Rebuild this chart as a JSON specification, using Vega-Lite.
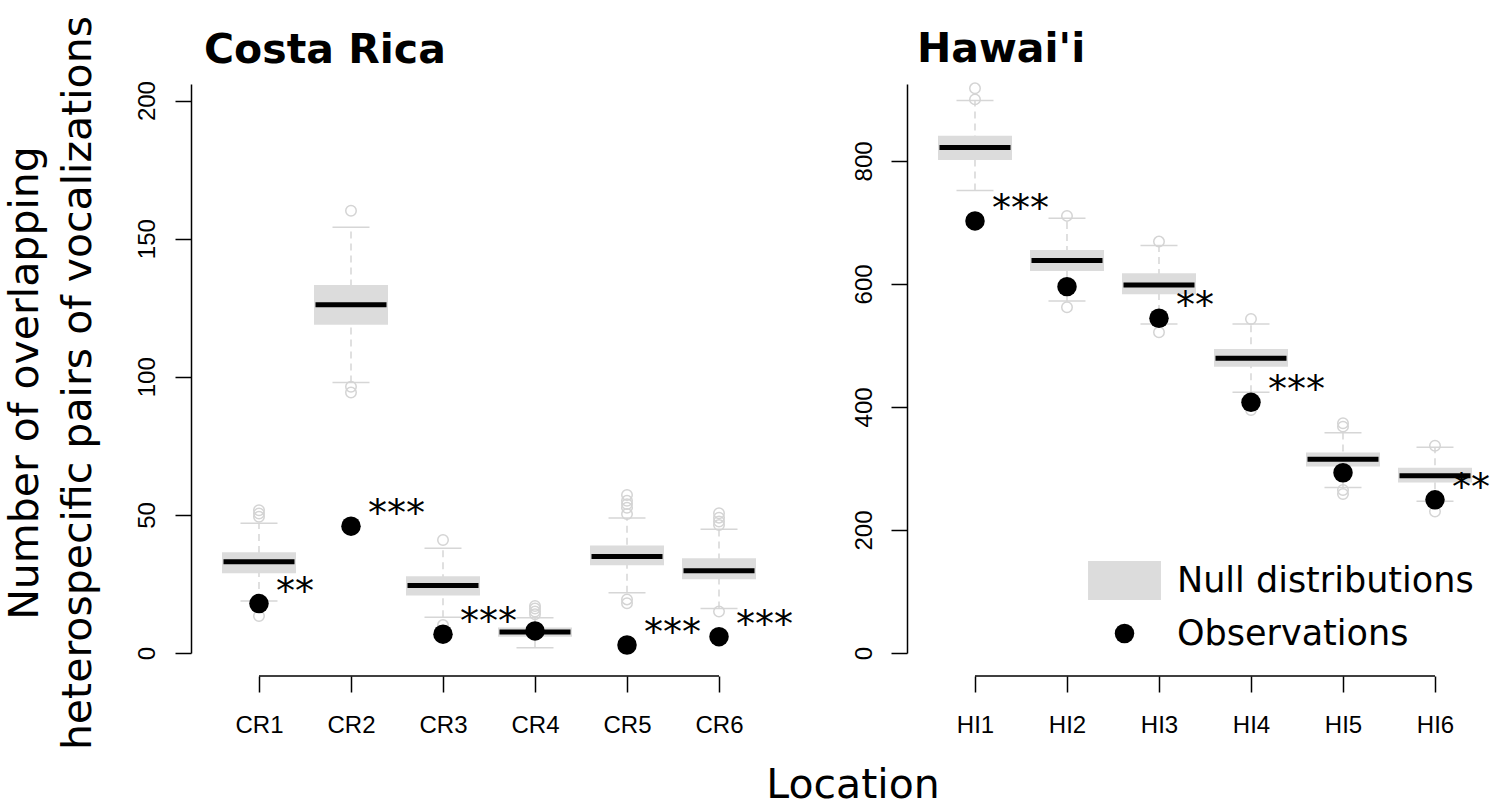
{
  "$schema": "https://vega.github.io/schema/vega-lite/v6.json",
  "background": "white",
  "padding": {"left": 4, "top": 15, "right": 0, "bottom": 0},
  "config": {
    "view": {"stroke": null},
    "font": "DejaVu Sans",
    "axis": {
      "domainColor": "black",
      "domainWidth": 1.5,
      "tickColor": "black",
      "tickWidth": 1.5,
      "tickSize": 16,
      "grid": false,
      "labelColor": "black",
      "labelFont": "Liberation Sans",
      "labelFontSize": 24
    }
  },
  "datasets": {
    "stats": [
      {"region": "CR", "site": "CR1", "lo": 18.8, "q1": 28.9, "med": 33.0, "q3": 36.5, "hi": 47.0},
      {"region": "CR", "site": "CR2", "lo": 97.9, "q1": 118.8, "med": 126.1, "q3": 133.2, "hi": 154.1},
      {"region": "CR", "site": "CR3", "lo": 12.9, "q1": 20.8, "med": 24.4, "q3": 27.8, "hi": 37.9},
      {"region": "CR", "site": "CR4", "lo": 1.9, "q1": 5.9, "med": 7.6, "q3": 9.2, "hi": 12.8},
      {"region": "CR", "site": "CR5", "lo": 21.8, "q1": 31.8, "med": 34.9, "q3": 38.9, "hi": 48.9},
      {"region": "CR", "site": "CR6", "lo": 16.1, "q1": 26.7, "med": 29.8, "q3": 34.3, "hi": 44.8},
      {"region": "HI", "site": "HI1", "lo": 751.7, "q1": 801.6, "med": 821.6, "q3": 840.7, "hi": 898},
      {"region": "HI", "site": "HI2", "lo": 572.4, "q1": 621, "med": 638, "q3": 655.3, "hi": 706.8},
      {"region": "HI", "site": "HI3", "lo": 535, "q1": 583.2, "med": 598.4, "q3": 617.4, "hi": 662.3},
      {"region": "HI", "site": "HI4", "lo": 424, "q1": 465.5, "med": 479, "q3": 494, "hi": 535},
      {"region": "HI", "site": "HI5", "lo": 269, "q1": 303, "med": 315, "q3": 326, "hi": 358},
      {"region": "HI", "site": "HI6", "lo": 246.7, "q1": 277, "med": 288, "q3": 301, "hi": 334.5}
    ],
    "outliers": [
      {"region": "CR", "site": "CR1", "value": 51.7},
      {"region": "CR", "site": "CR1", "value": 50.5},
      {"region": "CR", "site": "CR1", "value": 49.3},
      {"region": "CR", "site": "CR1", "value": 13.4},
      {"region": "CR", "site": "CR2", "value": 160.1},
      {"region": "CR", "site": "CR2", "value": 96.4},
      {"region": "CR", "site": "CR2", "value": 94.3},
      {"region": "CR", "site": "CR3", "value": 40.9},
      {"region": "CR", "site": "CR3", "value": 10.1},
      {"region": "CR", "site": "CR4", "value": 17.0},
      {"region": "CR", "site": "CR4", "value": 16.1},
      {"region": "CR", "site": "CR4", "value": 15.0},
      {"region": "CR", "site": "CR4", "value": 14.0},
      {"region": "CR", "site": "CR5", "value": 57.2},
      {"region": "CR", "site": "CR5", "value": 55.1},
      {"region": "CR", "site": "CR5", "value": 53.9},
      {"region": "CR", "site": "CR5", "value": 52.6},
      {"region": "CR", "site": "CR5", "value": 50.3},
      {"region": "CR", "site": "CR5", "value": 19.4},
      {"region": "CR", "site": "CR5", "value": 18.0},
      {"region": "CR", "site": "CR6", "value": 50.6},
      {"region": "CR", "site": "CR6", "value": 49.0},
      {"region": "CR", "site": "CR6", "value": 47.6},
      {"region": "CR", "site": "CR6", "value": 46.3},
      {"region": "CR", "site": "CR6", "value": 15.0},
      {"region": "HI", "site": "HI1", "value": 918},
      {"region": "HI", "site": "HI1", "value": 900},
      {"region": "HI", "site": "HI2", "value": 710.6},
      {"region": "HI", "site": "HI2", "value": 562},
      {"region": "HI", "site": "HI3", "value": 668.8},
      {"region": "HI", "site": "HI3", "value": 521.4},
      {"region": "HI", "site": "HI4", "value": 543},
      {"region": "HI", "site": "HI4", "value": 395},
      {"region": "HI", "site": "HI5", "value": 373.5},
      {"region": "HI", "site": "HI5", "value": 368},
      {"region": "HI", "site": "HI5", "value": 265},
      {"region": "HI", "site": "HI5", "value": 258.5},
      {"region": "HI", "site": "HI6", "value": 337},
      {"region": "HI", "site": "HI6", "value": 230}
    ],
    "obs": [
      {"region": "CR", "site": "CR1", "value": 17.9, "stars": "**", "series": "Observations"},
      {"region": "CR", "site": "CR2", "value": 45.9, "stars": "***", "series": "Observations"},
      {"region": "CR", "site": "CR3", "value": 6.8, "stars": "***", "series": "Observations"},
      {"region": "CR", "site": "CR4", "value": 8.0, "stars": "", "series": "Observations"},
      {"region": "CR", "site": "CR5", "value": 2.9, "stars": "***", "series": "Observations"},
      {"region": "CR", "site": "CR6", "value": 5.9, "stars": "***", "series": "Observations"},
      {"region": "HI", "site": "HI1", "value": 702.4, "stars": "***", "series": "Observations"},
      {"region": "HI", "site": "HI2", "value": 595.6, "stars": "", "series": "Observations"},
      {"region": "HI", "site": "HI3", "value": 544.2, "stars": "**", "series": "Observations"},
      {"region": "HI", "site": "HI4", "value": 407.6, "stars": "***", "series": "Observations"},
      {"region": "HI", "site": "HI5", "value": 293, "stars": "", "series": "Observations"},
      {"region": "HI", "site": "HI6", "value": 249, "stars": "**", "series": "Observations"}
    ]
  },
  "title": {
    "text": "Location",
    "orient": "bottom",
    "anchor": "middle",
    "font": "DejaVu Sans",
    "fontSize": 41,
    "fontWeight": "normal",
    "color": "black",
    "offset": 16,
    "dx": 102
  },
  "vconcat": [
    {
      "title": {
        "text": ["Number of overlapping", "heterospecific pairs of vocalizations"],
        "orient": "left",
        "anchor": "middle",
        "font": "DejaVu Sans",
        "fontSize": 41,
        "fontWeight": "normal",
        "color": "black",
        "lineHeight": 53,
        "offset": 35
      },
      "spacing": 57,
      "hconcat": [
        {
          "width": 596,
          "height": 569,
          "title": {
            "text": "Costa Rica",
            "anchor": "start",
            "frame": "group",
            "dx": 13,
            "offset": -23,
            "baseline": "alphabetic",
            "font": "DejaVu Sans",
            "fontSize": 41,
            "fontWeight": "bold",
            "color": "black"
          },
          "encoding": {
            "x": {
              "field": "site",
              "type": "nominal",
              "scale": {"type": "point", "domain": ["CR1", "CR2", "CR3", "CR4", "CR5", "CR6"], "padding": 0.739},
              "axis": {"title": null, "domain": false, "offset": 23, "labelAngle": 0, "labelBaseline": "top", "labelPadding": 21}
            }
          },
          "layer": [
            {
              "data": {"name": "stats"},
              "transform": [{"filter": "datum.region === 'CR'"}],
              "mark": {"type": "rule", "color": "#d6d6d6", "strokeWidth": 1.5, "strokeDash": [7, 5]},
              "encoding": {
                "y": {
                  "field": "lo",
                  "type": "quantitative",
                  "scale": {"domain": [0, 206], "nice": false, "zero": false},
                  "axis": {
                    "values": [0, 50, 100, 150, 200],
                    "labelAngle": -90,
                    "labelAlign": "center",
                    "labelBaseline": "alphabetic",
                    "labelPadding": 21,
                    "title": null
                  }
                },
                "y2": {"field": "hi"}
              }
            },
            {
              "data": {"name": "stats"},
              "transform": [{"filter": "datum.region === 'CR'"}],
              "mark": {"type": "tick", "orient": "horizontal", "color": "#d6d6d6", "opacity": 1, "size": 37, "thickness": 1.5},
              "encoding": {"y": {"field": "lo", "type": "quantitative"}}
            },
            {
              "data": {"name": "stats"},
              "transform": [{"filter": "datum.region === 'CR'"}],
              "mark": {"type": "tick", "orient": "horizontal", "color": "#d6d6d6", "opacity": 1, "size": 37, "thickness": 1.5},
              "encoding": {"y": {"field": "hi", "type": "quantitative"}}
            },
            {
              "data": {"name": "stats"},
              "transform": [{"filter": "datum.region === 'CR'"}],
              "mark": {"type": "bar", "color": "#dcdcdc", "opacity": 1, "size": 74},
              "encoding": {
                "y": {"field": "q1", "type": "quantitative"},
                "y2": {"field": "q3"}
              }
            },
            {
              "data": {"name": "stats"},
              "transform": [{"filter": "datum.region === 'CR'"}],
              "mark": {"type": "tick", "orient": "horizontal", "color": "black", "opacity": 1, "size": 71, "thickness": 5},
              "encoding": {"y": {"field": "med", "type": "quantitative"}}
            },
            {
              "data": {"name": "outliers"},
              "transform": [{"filter": "datum.region === 'CR'"}],
              "mark": {"type": "point", "shape": "circle", "filled": false, "stroke": "#d4d4d4", "opacity": 1, "strokeWidth": 1.5, "size": 110},
              "encoding": {"y": {"field": "value", "type": "quantitative"}}
            },
            {
              "data": {"name": "obs"},
              "transform": [{"filter": "datum.region === 'CR'"}],
              "mark": {"type": "point", "shape": "circle", "filled": true, "color": "black", "opacity": 1, "size": 380},
              "encoding": {"y": {"field": "value", "type": "quantitative"}}
            },
            {
              "data": {"name": "obs"},
              "transform": [{"filter": "datum.region === 'CR'"}],
              "mark": {"type": "text", "align": "left", "baseline": "alphabetic", "dx": 17, "dy": 0, "font": "DejaVu Sans", "fontSize": 38, "color": "black"},
              "encoding": {
                "y": {"field": "value", "type": "quantitative"},
                "text": {"field": "stars"}
              }
            },
            {
              "data": {"values": [{"first": "CR1", "last": "CR6"}]},
              "mark": {"type": "rule", "color": "black", "strokeWidth": 1.5},
              "encoding": {
                "x": {"field": "first", "type": "nominal"},
                "x2": {"field": "last"},
                "y": {"datum": -8.33, "type": "quantitative"}
              }
            }
          ]
        },
        {
          "width": 590,
          "height": 569,
          "title": {
            "text": "Hawai'i",
            "anchor": "start",
            "frame": "group",
            "dx": 10,
            "offset": -23,
            "baseline": "alphabetic",
            "font": "DejaVu Sans",
            "fontSize": 41,
            "fontWeight": "bold",
            "color": "black"
          },
          "encoding": {
            "x": {
              "field": "site",
              "type": "nominal",
              "scale": {"type": "point", "domain": ["HI1", "HI2", "HI3", "HI4", "HI5", "HI6"], "padding": 0.7065, "align": 0.523},
              "axis": {"title": null, "domain": false, "offset": 23, "labelAngle": 0, "labelBaseline": "top", "labelPadding": 21}
            }
          },
          "layer": [
            {
              "data": {"name": "stats"},
              "transform": [{"filter": "datum.region === 'HI'"}],
              "mark": {"type": "rule", "color": "#d6d6d6", "strokeWidth": 1.5, "strokeDash": [7, 5]},
              "encoding": {
                "y": {
                  "field": "lo",
                  "type": "quantitative",
                  "scale": {"domain": [0, 925], "nice": false, "zero": false},
                  "axis": {
                    "values": [0, 200, 400, 600, 800],
                    "labelAngle": -90,
                    "labelAlign": "center",
                    "labelBaseline": "alphabetic",
                    "labelPadding": 20,
                    "title": null
                  }
                },
                "y2": {"field": "hi"}
              }
            },
            {
              "data": {"name": "stats"},
              "transform": [{"filter": "datum.region === 'HI'"}],
              "mark": {"type": "tick", "orient": "horizontal", "color": "#d6d6d6", "opacity": 1, "size": 37, "thickness": 1.5},
              "encoding": {"y": {"field": "lo", "type": "quantitative"}}
            },
            {
              "data": {"name": "stats"},
              "transform": [{"filter": "datum.region === 'HI'"}],
              "mark": {"type": "tick", "orient": "horizontal", "color": "#d6d6d6", "opacity": 1, "size": 37, "thickness": 1.5},
              "encoding": {"y": {"field": "hi", "type": "quantitative"}}
            },
            {
              "data": {"name": "stats"},
              "transform": [{"filter": "datum.region === 'HI'"}],
              "mark": {"type": "bar", "color": "#dcdcdc", "opacity": 1, "size": 74},
              "encoding": {
                "y": {"field": "q1", "type": "quantitative"},
                "y2": {"field": "q3"}
              }
            },
            {
              "data": {"name": "stats"},
              "transform": [{"filter": "datum.region === 'HI'"}],
              "mark": {"type": "tick", "orient": "horizontal", "color": "black", "opacity": 1, "size": 71, "thickness": 5},
              "encoding": {"y": {"field": "med", "type": "quantitative"}}
            },
            {
              "data": {"name": "outliers"},
              "transform": [{"filter": "datum.region === 'HI'"}],
              "mark": {"type": "point", "shape": "circle", "filled": false, "stroke": "#d4d4d4", "opacity": 1, "strokeWidth": 1.5, "size": 110},
              "encoding": {"y": {"field": "value", "type": "quantitative"}}
            },
            {
              "data": {"name": "obs"},
              "transform": [{"filter": "datum.region === 'HI'"}],
              "mark": {"type": "point", "filled": true, "opacity": 1, "size": 380, "strokeWidth": 0},
              "encoding": {
                "y": {"field": "value", "type": "quantitative"},
                "color": {
                  "field": "series",
                  "type": "nominal",
                  "scale": {"domain": ["Null distributions", "Observations"], "range": ["#dcdcdc", "black"]},
                  "legend": {
                    "title": null,
                    "orient": "none",
                    "legendX": 916,
                    "legendY": 479,
                    "padding": 0,
                    "labelFont": "DejaVu Sans",
                    "labelFontSize": 35,
                    "labelColor": "black",
                    "labelLimit": 0,
                    "labelOffset": 35,
                    "rowPadding": 16,
                    "symbolSize": 380,
                    "symbolStrokeWidth": 0,
                    "symbolOpacity": 1
                  }
                },
                "shape": {
                  "field": "series",
                  "type": "nominal",
                  "scale": {"domain": ["Null distributions", "Observations"], "range": ["M-3.74,-2L3.74,-2L3.74,2L-3.74,2Z", "circle"]},
                  "legend": {
                    "title": null,
                    "orient": "none",
                    "legendX": 916,
                    "legendY": 479,
                    "padding": 0,
                    "labelFont": "DejaVu Sans",
                    "labelFontSize": 35,
                    "labelColor": "black",
                    "labelLimit": 0,
                    "labelOffset": 35,
                    "rowPadding": 16,
                    "symbolSize": 380,
                    "symbolStrokeWidth": 0,
                    "symbolOpacity": 1
                  }
                }
              }
            },
            {
              "data": {"name": "obs"},
              "transform": [{"filter": "datum.region === 'HI'"}],
              "mark": {"type": "text", "align": "left", "baseline": "alphabetic", "dx": 17, "dy": 0, "font": "DejaVu Sans", "fontSize": 38, "color": "black"},
              "encoding": {
                "y": {"field": "value", "type": "quantitative"},
                "text": {"field": "stars"}
              }
            },
            {
              "data": {"values": [{"first": "HI1", "last": "HI6"}]},
              "mark": {"type": "rule", "color": "black", "strokeWidth": 1.5},
              "encoding": {
                "x": {"field": "first", "type": "nominal"},
                "x2": {"field": "last"},
                "y": {"datum": -37.4, "type": "quantitative"}
              }
            }
          ]
        }
      ]
    }
  ]
}
